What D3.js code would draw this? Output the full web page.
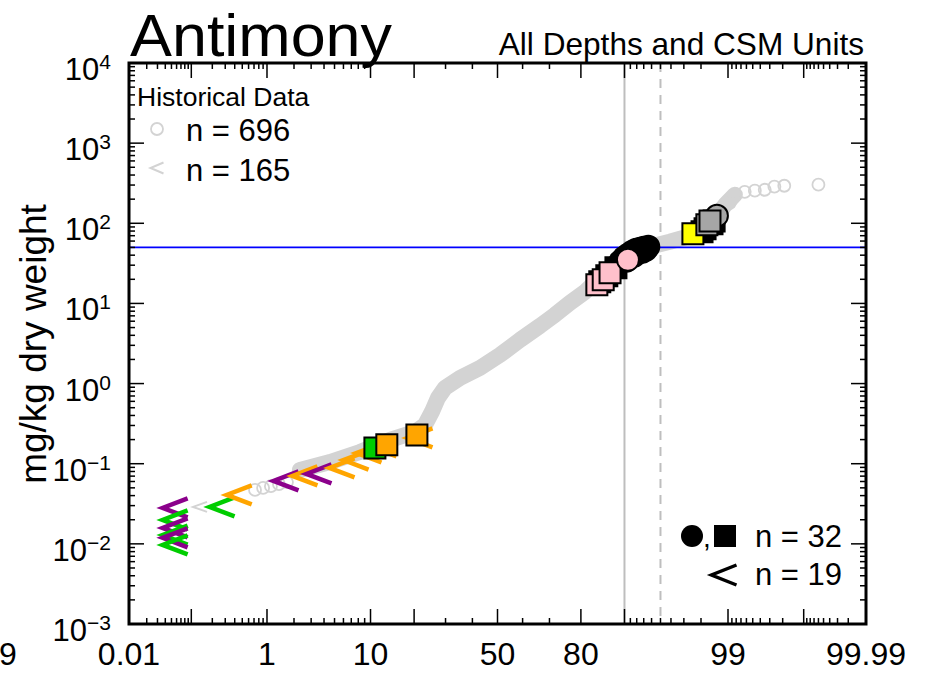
<!DOCTYPE html>
<html>
<head>
<meta charset="utf-8">
<script src="https://cdn.jsdelivr.net/npm/d3@7"></script>
<style>
  body { margin: 0; background: #fff; }
  text { font-family: "Liberation Sans", Arial, sans-serif; }
</style>
</head>
<body>
<div id="plot"></div>
<script>
// historical data: the dense band (read along its middle), sparse tail circles, nondetects
let bandPct = [2.31, 4.55, 8.26, 13.9, 20.3, 23.2, 25.4, 27.4, 29.8, 35.3, 43.0, 51.0, 59.0, 66.6, 71.9, 76.8, 81.1, 84.9, 88.2, 90.9, 93.8, 95.9, 97.4, 98.19, 98.59, 98.92, 99.17];
let bandVal = [0.0837, 0.105, 0.140, 0.198, 0.249, 0.305, 0.444, 0.663, 0.883, 1.18, 1.57, 2.28, 3.51, 5.25, 7.21, 10.2, 13.9, 20.9, 30.3, 40.5, 50.9, 58.8, 69.8, 87.9, 117, 170, 227];
let histPct = [0.72, 0.90, 1.11, 1.37, 1.68, 98.92, 99.05, 99.37, 99.53, 99.65, 99.74, 99.81, 99.94];
let histVal = [0.0471, 0.0499, 0.0524, 0.0557, 0.0590, 170, 180, 247, 255, 262, 286, 294, 303];
let histNdPct = [0.134];
let histNdVal = [0.0289];

// current data: nondetects
let ndPct = [0.057, 0.057, 0.057, 0.057, 0.057, 0.057, 0.272, 0.457, 1.64, 2.60, 3.58, 5.83, 7.67, 9.73, 12.6, 21.7];
let ndVal = [0.0281, 0.0199, 0.0158, 0.0129, 0.0119, 0.0097, 0.0289, 0.0408, 0.061, 0.0704, 0.0746, 0.0887, 0.111, 0.136, 0.162, 0.210];
let ndColor = ['purple', 'green', 'purple', 'green', 'purple', 'green', 'green', 'orange', 'purple', 'orange', 'purple', 'orange', 'orange', 'orange', 'orange', 'orange'];

// current data: detects
let detPct = [89.2, 89.9, 90.6, 91.3, 91.9, 92.5, 93.0, 93.6, 90.9, 92.2, 92.8, 93.3, 91.6, 90.3,
              84.9, 86.5, 88.4, 98.05, 98.19, 98.48, 98.56,
              10.8, 13.2, 20.8, 84.2, 85.7, 87.2, 90.6, 97.57, 98.66, 98.27, 98.40];
let detVal = [33.1, 37.1, 40.5, 44.1, 46.7, 48.1, 49.4, 50.9, 38.2, 42.9, 44.1, 46.7, 39.3, 34.0,
              18.6, 22.1, 27.8, 78.3, 85.4, 98.6, 107,
              0.157, 0.172, 0.229, 17.1, 19.7, 24.1, 35.0, 74.0, 124, 95.8, 107];
let detShape = ['c','c','c','c','c','c','c','c','c','c','c','c','c','c',
                's','s','s','s','s','s','s',
                's','s','s','s','s','s','c','s','c','s','s'];
let detColor = ['black','black','black','black','black','black','black','black','black','black','black','black','black','black',
                'black','black','black','black','black','black','black',
                'green','orange','orange','pink','pink','pink','pink','yellow','gray','gray','gray'];

let xTickLabels = [0.01, 1, 10, 50, 80, 99, 99.99];
let xMajor = [0.01, 0.1, 1, 10, 20, 50, 80, 90, 99, 99.9, 99.99];
let xMinor = [0.02, 0.03, 0.04, 0.05, 0.06, 0.07, 0.08, 0.09, 0.2, 0.3, 0.4, 0.5, 0.6, 0.7, 0.8, 0.9,
              2, 3, 4, 5, 6, 7, 8, 9, 30, 40, 60, 70, 91, 92, 93, 94, 95, 96, 97, 98,
              99.1, 99.2, 99.3, 99.4, 99.5, 99.6, 99.7, 99.8, 99.91, 99.92, 99.93, 99.94, 99.95, 99.96, 99.97, 99.98];
let yDecades = [-3, -2, -1, 0, 1, 2, 3, 4];
let limitVal = 50;
let pctLines = [90, 95];

let colors = {black: '#000000', green: '#00cd00', orange: '#ffa500', purple: '#8b008b',
              pink: '#ffc0cb', yellow: '#ffff00', gray: '#a6a6a6'};
let histGray = '#d3d3d3';

// inverse normal cdf (Acklam)
function qnorm(p) {
    let a = [-3.969683028665376e+01, 2.209460984245205e+02, -2.759285104469687e+02, 1.383577518672690e+02, -3.066479806614716e+01, 2.506628277459239e+00];
    let b = [-5.447609879822406e+01, 1.615858368580409e+02, -1.556989798598866e+02, 6.680131188771972e+01, -1.328068155288572e+01];
    let c = [-7.784894002430293e-03, -3.223964580411365e-01, -2.400758277161838e+00, -2.549671010228027e+00, 4.374664141464968e+00, 2.938163982698783e+00];
    let d = [7.784695709041462e-03, 3.224671290700398e-01, 2.445134137142996e+00, 3.754408661907416e+00];
    let q, r;
    if (p < 0.02425) {
        q = Math.sqrt(-2 * Math.log(p));
        return (((((c[0]*q+c[1])*q+c[2])*q+c[3])*q+c[4])*q+c[5]) / ((((d[0]*q+d[1])*q+d[2])*q+d[3])*q+1);
    }
    if (p <= 1 - 0.02425) {
        q = p - 0.5; r = q * q;
        return (((((a[0]*r+a[1])*r+a[2])*r+a[3])*r+a[4])*r+a[5])*q / (((((b[0]*r+b[1])*r+b[2])*r+b[3])*r+b[4])*r+1);
    }
    q = Math.sqrt(-2 * Math.log(1 - p));
    return -(((((c[0]*q+c[1])*q+c[2])*q+c[3])*q+c[4])*q+c[5]) / ((((d[0]*q+d[1])*q+d[2])*q+d[3])*q+1);
}

let svgWidth = 934;
let svgHeight = 675;
let margin = {top: 63, right: 68, bottom: 51, left: 129};
let width = svgWidth - margin.left - margin.right;
let height = svgHeight - margin.top - margin.bottom;

let root = d3.select('#plot')
            .append('svg')
                .attr('width', svgWidth)
                .attr('height', svgHeight);
let svg = root.append('g')
            .attr('transform', `translate(${margin.left}, ${margin.top})`);

let zScale = d3.scaleLinear()
            .domain([qnorm(0.0001), qnorm(0.9999)])
            .range([0, width]);
let x = p => zScale(qnorm(p / 100));

let y = d3.scaleLog()
            .domain([1e-3, 1e4])
            .range([height, 0]);

let yMinor = [];
yDecades.slice(0, -1).forEach(e => { for (let k = 2; k <= 9; k++) yMinor.push(k * Math.pow(10, e)); });

// reference lines
svg.selectAll('.pline')
    .data(pctLines)
    .join('line')
        .attr('x1', d => x(d)).attr('x2', d => x(d))
        .attr('y1', 0).attr('y2', height)
        .attr('stroke', '#bebebe')
        .attr('stroke-width', 2)
        .attr('stroke-dasharray', (d, i) => i === 1 ? '9,7' : null);

// historical band
let band = bandPct.map((p, i) => [p, bandVal[i]]);
svg.append('path')
    .datum(band)
    .attr('d', d3.line().x(d => x(d[0])).y(d => y(d[1])))
    .attr('fill', 'none')
    .attr('stroke', histGray)
    .attr('stroke-width', 16)
    .attr('stroke-linecap', 'round')
    .attr('stroke-linejoin', 'round');

svg.selectAll('.hist')
    .data(histPct.map((p, i) => [p, histVal[i]]))
    .join('circle')
        .attr('cx', d => x(d[0]))
        .attr('cy', d => y(d[1]))
        .attr('r', 6)
        .attr('fill', 'none')
        .attr('stroke', histGray)
        .attr('stroke-width', 1.8);

function lessPath(w, h) {
    return `M${w / 2},${-h / 2}L${-w / 2},0L${w / 2},${h / 2}`;
}

svg.selectAll('.histnd')
    .data(histNdPct.map((p, i) => [p, histNdVal[i]]))
    .join('path')
        .attr('transform', d => `translate(${x(d[0])},${y(d[1])})`)
        .attr('d', lessPath(14, 10))
        .attr('fill', 'none')
        .attr('stroke', histGray)
        .attr('stroke-width', 2);

// limit line
svg.append('line')
    .attr('x1', 0).attr('x2', width)
    .attr('y1', y(limitVal)).attr('y2', y(limitVal))
    .attr('stroke', '#0000ff')
    .attr('stroke-width', 1.6);

// current nondetects
svg.selectAll('.nd')
    .data(ndPct.map((p, i) => [p, ndVal[i], ndColor[i]]))
    .join('path')
        .attr('transform', d => `translate(${x(d[0])},${y(d[1])})`)
        .attr('d', lessPath(25, 19))
        .attr('fill', 'none')
        .attr('stroke', d => colors[d[2]])
        .attr('stroke-width', 4.5);

// current detects
let det = detPct.map((p, i) => ({p: p, v: detVal[i], shape: detShape[i], color: detColor[i]}));
svg.selectAll('.det')
    .data(det)
    .join('path')
        .attr('transform', d => `translate(${x(d.p)},${y(d.v)})`)
        .attr('d', d => d.shape === 'c' ? d3.symbol(d3.symbolCircle, Math.PI * 11 * 11)() : d3.symbol(d3.symbolSquare, 21 * 21)())
        .attr('fill', d => colors[d.color])
        .attr('stroke', '#000')
        .attr('stroke-width', 2);

// ticks on all four sides, pointing inward
function xTicks(vals, len) {
    svg.append('g').selectAll('line').data(vals).join('line')
        .attr('x1', d => x(d)).attr('x2', d => x(d))
        .attr('y1', height).attr('y2', height - len)
        .attr('stroke', '#000').attr('stroke-width', 1.5);
    svg.append('g').selectAll('line').data(vals).join('line')
        .attr('x1', d => x(d)).attr('x2', d => x(d))
        .attr('y1', 0).attr('y2', len)
        .attr('stroke', '#000').attr('stroke-width', 1.5);
}
function yTicks(vals, len) {
    svg.append('g').selectAll('line').data(vals).join('line')
        .attr('y1', d => y(d)).attr('y2', d => y(d))
        .attr('x1', 0).attr('x2', len)
        .attr('stroke', '#000').attr('stroke-width', 1.5);
    svg.append('g').selectAll('line').data(vals).join('line')
        .attr('y1', d => y(d)).attr('y2', d => y(d))
        .attr('x1', width).attr('x2', width - len)
        .attr('stroke', '#000').attr('stroke-width', 1.5);
}
xTicks(xMajor, 15);
xTicks(xMinor, 6);
yTicks(yDecades.map(e => Math.pow(10, e)), 15);
yTicks(yMinor, 6);

svg.append('rect')
    .attr('width', width).attr('height', height)
    .attr('fill', 'none')
    .attr('stroke', '#000')
    .attr('stroke-width', 3);

// tick labels
svg.selectAll('.xl')
    .data(xTickLabels)
    .join('text')
        .attr('x', d => x(d))
        .attr('y', height + 41)
        .attr('text-anchor', 'middle')
        .attr('font-size', 32)
        .text(d => d);
// last digit of the neighbouring panel's label, at the page edge
root.append('text')
    .attr('x', -1).attr('y', margin.top + height + 41)
    .attr('font-size', 32)
    .text('9');

let yl = svg.selectAll('.yl')
    .data(yDecades)
    .join('text')
        .attr('x', -18)
        .attr('y', d => y(Math.pow(10, d)) + 17)
        .attr('text-anchor', 'end')
        .attr('font-size', 31);
yl.append('tspan').text('10');
yl.append('tspan').attr('dy', -11).attr('font-size', 21).text(d => d < 0 ? '\u2212' + (-d) : d);

root.append('text')
    .attr('transform', `translate(46, 344) rotate(-90)`)
    .attr('text-anchor', 'middle')
    .attr('font-size', 37)
    .text('mg/kg dry weight');

// titles
root.append('text')
    .attr('x', 130).attr('y', 56)
    .attr('font-size', 60)
    .attr('textLength', 262)
    .attr('lengthAdjust', 'spacingAndGlyphs')
    .text('Antimony');
root.append('text')
    .attr('x', 864).attr('y', 55)
    .attr('text-anchor', 'end')
    .attr('font-size', 31.6)
    .text('All Depths and CSM Units');

// legend, historical
root.append('text').attr('x', 137).attr('y', 106).attr('font-size', 26.5).text('Historical Data');
root.append('circle').attr('cx', 157).attr('cy', 129).attr('r', 6)
    .attr('fill', 'none').attr('stroke', histGray).attr('stroke-width', 1.8);
root.append('text').attr('x', 186).attr('y', 141).attr('font-size', 31).text('n = 696');
root.append('path').attr('transform', 'translate(157,168)').attr('d', lessPath(13, 11))
    .attr('fill', 'none').attr('stroke', histGray).attr('stroke-width', 2);
root.append('text').attr('x', 186).attr('y', 181).attr('font-size', 31).text('n = 165');

// legend, current
root.append('circle').attr('cx', 692).attr('cy', 536).attr('r', 11).attr('fill', '#000');
root.append('text').attr('x', 703).attr('y', 547).attr('font-size', 28).text(',');
root.append('rect').attr('x', 714).attr('y', 525).attr('width', 22).attr('height', 22).attr('fill', '#000');
root.append('text').attr('x', 755).attr('y', 547).attr('font-size', 31).text('n = 32');
root.append('path').attr('transform', 'translate(724,575)').attr('d', lessPath(25, 20))
    .attr('fill', 'none').attr('stroke', '#000').attr('stroke-width', 3.5);
root.append('text').attr('x', 755).attr('y', 585).attr('font-size', 31).text('n = 19');
</script>
</body>
</html>
